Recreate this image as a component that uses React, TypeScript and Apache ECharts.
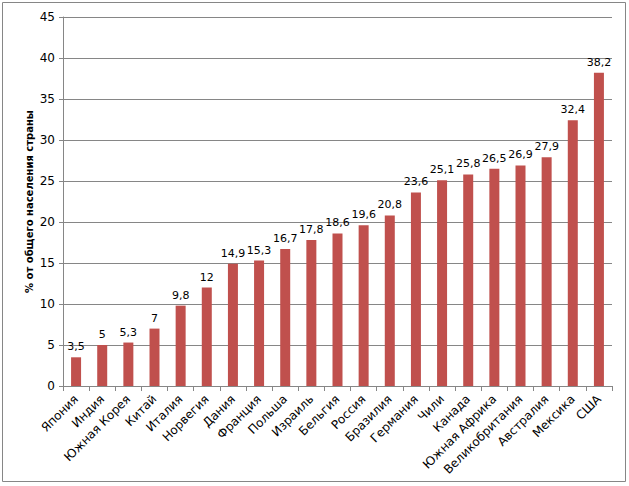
import React, { useEffect, useRef } from "react";
import * as echarts from "echarts";

const categories = ["Япония", "Индия", "Южная Корея", "Китай", "Италия", "Норвегия", "Дания", "Франция", "Польша", "Израиль", "Бельгия", "Россия", "Бразилия", "Германия", "Чили", "Канада", "Южная Африка", "Великобритания", "Австралия", "Мексика", "США"];
const values = [3.5, 5, 5.3, 7, 9.8, 12, 14.9, 15.3, 16.7, 17.8, 18.6, 19.6, 20.8, 23.6, 25.1, 25.8, 26.5, 26.9, 27.9, 32.4, 38.2];
const yAxisName = "% от общего населения страны";

export default function App() {
  const ref = useRef<HTMLDivElement>(null);
  useEffect(() => {
    const chart = echarts.init(ref.current!, null, { renderer: "svg" });
    const font = "'DejaVu Sans', Verdana, sans-serif";
    chart.setOption({
      animation: false,
      backgroundColor: "#ffffff",
      graphic: [
        {
          type: "rect",
          shape: { x: 2.5, y: 2.5, width: 623, height: 479 },
          style: { fill: "none", stroke: "#868686", lineWidth: 1 },
          silent: true,
        },
      ],
      grid: { left: 63, right: 17, top: 17, bottom: 100, containLabel: false },
      xAxis: {
        type: "category",
        data: categories,
        boundaryGap: true,
        axisLine: { show: true, lineStyle: { color: "#868686" } },
        axisTick: { show: true, alignWithLabel: false, length: 5, lineStyle: { color: "#868686" } },
        axisLabel: { rotate: 45, interval: 0, color: "#000", fontSize: 12, fontFamily: font, margin: 11 },
      },
      yAxis: {
        type: "value",
        min: 0,
        max: 45,
        interval: 5,
        name: yAxisName,
        nameLocation: "middle",
        nameGap: 29,
        nameMoveOverlap: false,
        nameTextStyle: { color: "#000", fontSize: 10, fontWeight: "bold", fontFamily: font },
        axisLine: { show: true, lineStyle: { color: "#868686" } },
        axisTick: { show: true, length: 4, lineStyle: { color: "#868686" } },
        axisLabel: { color: "#000", fontSize: 12, fontFamily: font, margin: 8 },
        splitLine: { show: true, lineStyle: { color: "#868686" } },
      },
      series: [
        {
          type: "bar",
          data: values,
          barWidth: 10,
          itemStyle: { color: "#C0504D" },
          label: {
            show: true,
            position: "top",
            distance: 5,
            color: "#000",
            fontSize: 11,
            fontFamily: font,
            formatter: (p: any) => String(p.value).replace(".", ","),
          },
        },
      ],
    });
    return () => chart.dispose();
  }, []);
  return <div ref={ref} style={{ position: "absolute", left: 0, top: 0, width: 629, height: 486 }} />;
}
